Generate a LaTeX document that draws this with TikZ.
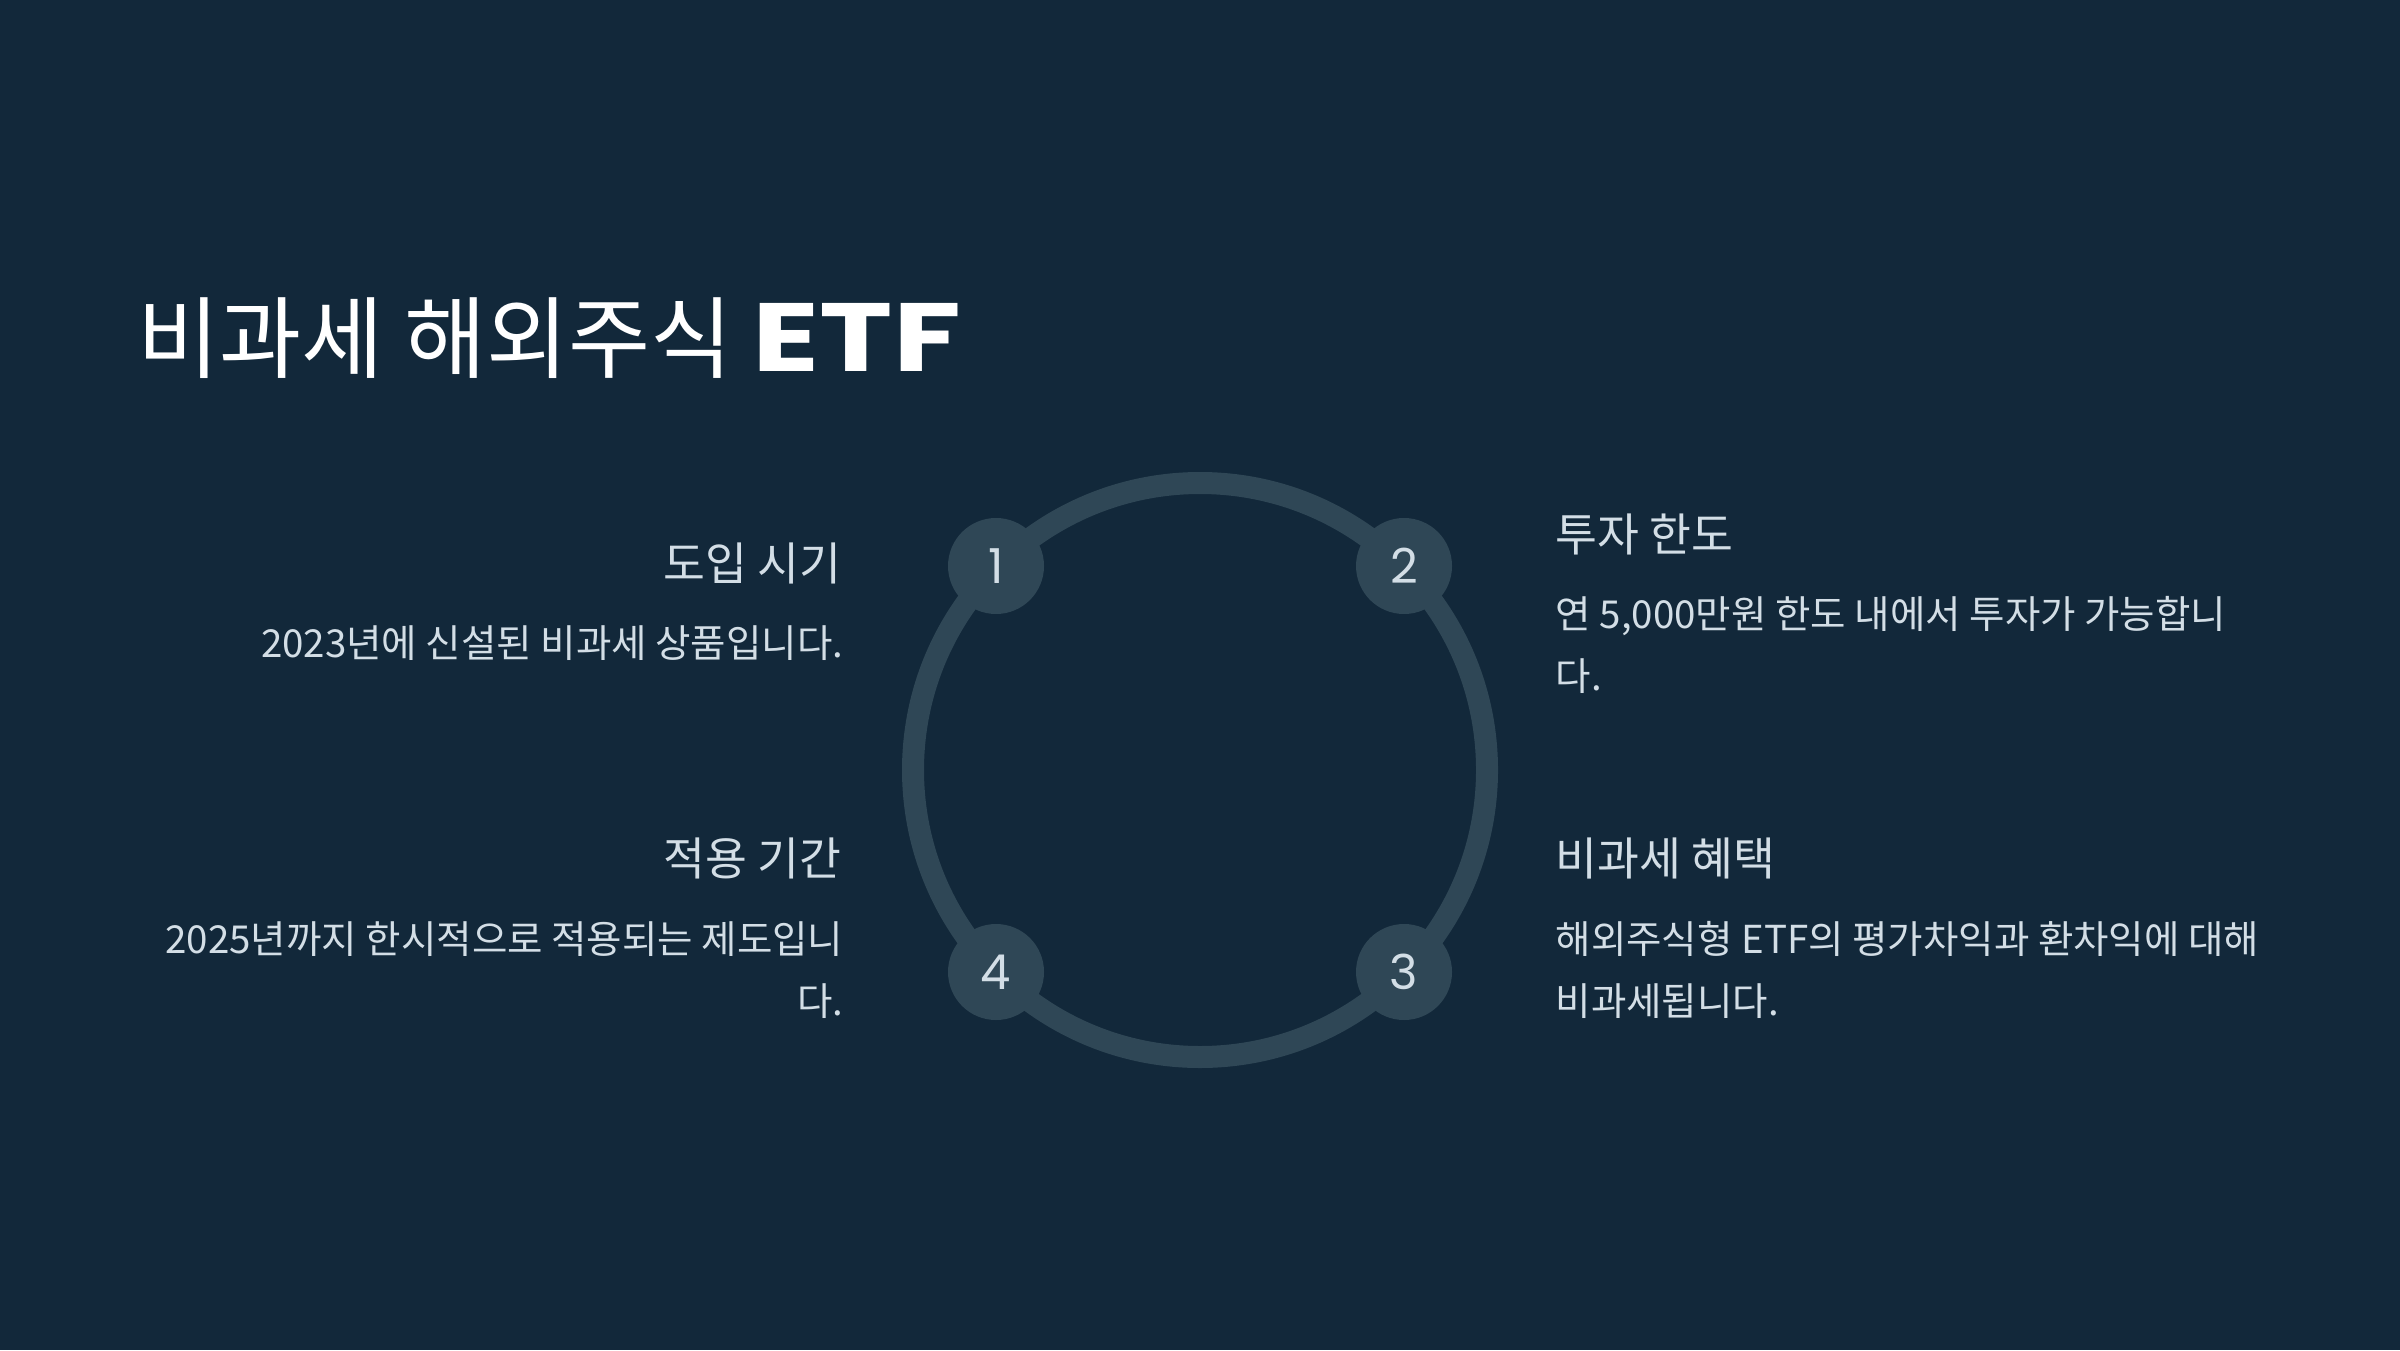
\documentclass[tikz,border=0pt]{standalone}
\usepackage{fontspec}
\setmainfont{Noto Sans CJK KR}
\newfontfamily\numfont{Poppins}
\newfontfamily\etffont[FakeStretch=1.28]{Poppins}
\usepackage{xcolor}
\definecolor{bgnavy}{HTML}{12283A}
\definecolor{ringgray}{HTML}{2F4756}
\definecolor{paletext}{HTML}{D3DEE6}

\begin{document}
\begin{tikzpicture}[line cap=butt,
  ring/.style={ringgray,line width=0.22cm},
  num/.style={circle,fill=ringgray,minimum size=0.96cm,inner sep=0pt,text=paletext,font=\numfont\fontsize{13.7}{16}\selectfont},
  head/.style={text=paletext,inner sep=0pt,font=\fontsize{12.95}{15}\selectfont},
  desc/.style={text=paletext,inner sep=0pt,font=\fontsize{10.95}{17.6}\selectfont}]
\fill[bgnavy] (0,0) rectangle (24,13.5);
\useasboundingbox (0,0) rectangle (24,13.5);
\node[anchor=base west,inner sep=0pt,text=white,font=\fontsize{25.4}{28}\selectfont] (title) at (1.37,9.78) {비과세 해외주식 {\etffont\bfseries\fontsize{27.6}{30}\selectfont ETF}};
\coordinate (c) at (12,5.8);
\foreach \a in {0,90,180,270}
  \draw[ring] (c) ++(\a:2.87) arc[start angle=\a,end angle=\a+90,radius=2.87];
\node[num] (n1) at (9.96,7.84) {1};
\node[num] (n2) at (14.04,7.84) {2};
\node[num] (n3) at (14.04,3.78) {3};
\node[num] (n4) at (9.96,3.78) {4};
\node[head,anchor=base east] (h1) at (8.42,7.70) {도입 시기};
\node[desc,anchor=base east] (d1) at (8.44,6.93) {2023년에 신설된 비과세 상품입니다.};
\node[head,anchor=base west] (h2) at (15.55,7.99) {투자 한도};
\node[desc,anchor=base west,align=left] (d2) at (15.55,6.60) {연 5,000만원 한도 내에서 투자가 가능합니\\다.};
\node[head,anchor=base east] (h4) at (8.42,4.75) {적용 기간};
\node[desc,anchor=base east,align=right] (d4) at (8.44,3.35) {2025년까지 한시적으로 적용되는 제도입니\\다.};
\node[head,anchor=base west] (h3) at (15.55,4.75) {비과세 혜택};
\node[desc,anchor=base west,align=left] (d3) at (15.55,3.35) {해외주식형 ETF의 평가차익과 환차익에 대해\\비과세됩니다.};
\end{tikzpicture}
\end{document}
